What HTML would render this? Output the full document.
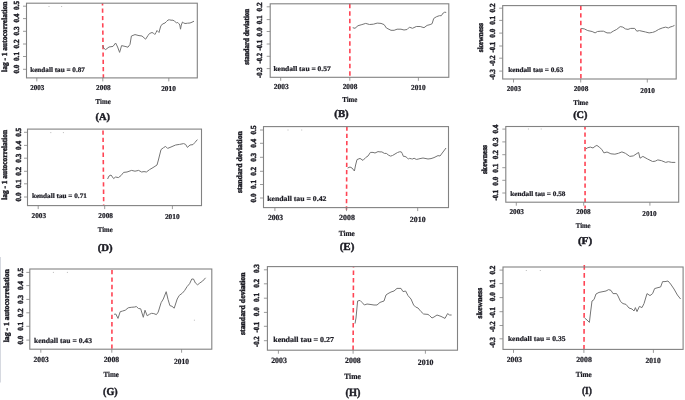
<!DOCTYPE html>
<html><head><meta charset="utf-8"><style>
html,body{margin:0;padding:0;background:#fff;width:685px;height:400px;overflow:hidden}
svg{display:block;filter:blur(0.3px)}
text{text-rendering:geometricPrecision;font-family:"Liberation Serif", serif;font-weight:bold;fill:#1c1c24;stroke:#1c1c24;stroke-width:0.22px}
text.r{stroke-width:0.45px}
text.l{stroke-width:0.45px}
</style></head><body>
<svg width="685" height="400" viewBox="0 0 685 400">
<line x1="0.5" y1="257" x2="0.5" y2="382.5" stroke="#d6d9e0" stroke-width="1"/>
<line x1="102.5" y1="3.2" x2="103.4" y2="77.9" stroke="#ff4454" stroke-width="1.6" stroke-dasharray="4.23 3.07" stroke-dashoffset="1.9"/>
<polyline points="102.8,45.6 103.6,48 105.6,49.6 109,47 113,46.4 115.6,43 117.6,47 119.6,52.4 121.6,45.6 125,46.4 128,47.2 130,44.4 131.4,36 135,34.6 139,35.6 142,36 145.6,39.2 148,35.5 149.5,33.5 152,32.5 153.5,33.2 154.8,34.5 156,32.5 157,30.5 158,31.5 159,32.5 160.2,28 161,25.5 163,23.8 165,23 166.5,21.5 168,20 169.5,19.8 171,20.2 173,20.2 174.5,21.2 176.5,22.8 177.8,22.5 179,23.8 179.8,25 180.5,29.2 181.3,25 182.5,22 183.5,22.8 185,23.5 187.5,23.2 190,23 192,22.2 194,21.2" fill="none" stroke="#747474" stroke-width="1" stroke-linejoin="round"/>
<rect x="26.5" y="3.2" width="170.8" height="74.7" fill="none" stroke="#828282" stroke-width="1.1"/>
<line x1="23" y1="6.2" x2="26.5" y2="6.2" stroke="#828282" stroke-width="0.8"/>
<text class="r" transform="translate(19.35,5.5) rotate(-90)" text-anchor="middle" font-size="7.8" textLength="9" lengthAdjust="spacingAndGlyphs">0.5</text>
<line x1="23" y1="18.6" x2="26.5" y2="18.6" stroke="#828282" stroke-width="0.8"/>
<text class="r" transform="translate(19.35,18.1) rotate(-90)" text-anchor="middle" font-size="7.8" textLength="9" lengthAdjust="spacingAndGlyphs">0.4</text>
<line x1="23" y1="31.3" x2="26.5" y2="31.3" stroke="#828282" stroke-width="0.8"/>
<text class="r" transform="translate(19.35,31) rotate(-90)" text-anchor="middle" font-size="7.8" textLength="9" lengthAdjust="spacingAndGlyphs">0.3</text>
<line x1="23" y1="44" x2="26.5" y2="44" stroke="#828282" stroke-width="0.8"/>
<text class="r" transform="translate(19.35,44) rotate(-90)" text-anchor="middle" font-size="7.8" textLength="9" lengthAdjust="spacingAndGlyphs">0.2</text>
<line x1="23" y1="56.5" x2="26.5" y2="56.5" stroke="#828282" stroke-width="0.8"/>
<text class="r" transform="translate(19.35,56.5) rotate(-90)" text-anchor="middle" font-size="7.8" textLength="9" lengthAdjust="spacingAndGlyphs">0.1</text>
<line x1="23" y1="69.3" x2="26.5" y2="69.3" stroke="#828282" stroke-width="0.8"/>
<text class="r" transform="translate(19.35,69.1) rotate(-90)" text-anchor="middle" font-size="7.8" textLength="9" lengthAdjust="spacingAndGlyphs">0.0</text>
<text class="r" transform="translate(6.75,36.8) rotate(-90)" text-anchor="middle" font-size="7.8" textLength="70.2" lengthAdjust="spacingAndGlyphs">lag - 1 autocorrelation</text>
<line x1="36.8" y1="77.9" x2="36.8" y2="81.4" stroke="#828282" stroke-width="0.8"/>
<text x="30.3" y="89.75" text-anchor="start" font-size="7.5" textLength="14.1" lengthAdjust="spacingAndGlyphs">2003</text>
<line x1="102.8" y1="77.9" x2="102.8" y2="81.4" stroke="#828282" stroke-width="0.8"/>
<text x="96.1" y="89.85" text-anchor="start" font-size="7.5" textLength="14.6" lengthAdjust="spacingAndGlyphs">2008</text>
<line x1="168.8" y1="77.9" x2="168.8" y2="81.4" stroke="#828282" stroke-width="0.8"/>
<text x="161.2" y="91.45" text-anchor="start" font-size="7.5" textLength="14.7" lengthAdjust="spacingAndGlyphs">2010</text>
<text x="30.2" y="71.78" text-anchor="start" font-size="7" textLength="54.7" lengthAdjust="spacingAndGlyphs">kendall tau = 0.87</text>
<text x="95.6" y="104.05" text-anchor="start" font-size="7.5" textLength="15.1" lengthAdjust="spacingAndGlyphs">Time</text>
<text x="95.6" y="120.43" text-anchor="start" font-size="10.3" textLength="14.5" lengthAdjust="spacingAndGlyphs" class="l">(A)</text>
<rect x="48.5" y="6" width="1" height="1" fill="#bbb"/>
<rect x="61.1" y="6" width="1" height="1" fill="#bbb"/>
<line x1="349.8" y1="3.8" x2="349.9" y2="78.6" stroke="#ff4454" stroke-width="1.6" stroke-dasharray="4.35 3.15" stroke-dashoffset="0"/>
<polyline points="352.7,27.7 355,28.3 358,25.7 361.9,24.6 365.7,23.4 369.5,24.5 373.4,24.2 377.2,23.1 381,23.4 384.1,24.6 386.4,28 391,30.3 394.1,30.3 397.1,29.2 401,29.2 404,30 407.1,29.5 409.4,27.2 412.5,28.3 416.3,26.5 420.2,26.5 424,27.7 427.1,25.4 430.1,24.6 432.1,23.7 433.7,18.5 436.3,16.8 439.3,15.7 441.3,15.7 443.2,13 444.7,12.2 446.2,12.4" fill="none" stroke="#747474" stroke-width="1" stroke-linejoin="round"/>
<rect x="270.2" y="3.8" width="178.6" height="73.5" fill="none" stroke="#828282" stroke-width="1.1"/>
<line x1="266.7" y1="6.8" x2="270.2" y2="6.8" stroke="#828282" stroke-width="0.8"/>
<text class="r" transform="translate(261.95,6.9) rotate(-90)" text-anchor="middle" font-size="7.8" textLength="9" lengthAdjust="spacingAndGlyphs">0.2</text>
<line x1="266.7" y1="19.6" x2="270.2" y2="19.6" stroke="#828282" stroke-width="0.8"/>
<text class="r" transform="translate(261.95,19.8) rotate(-90)" text-anchor="middle" font-size="7.8" textLength="9" lengthAdjust="spacingAndGlyphs">0.1</text>
<line x1="266.7" y1="31.5" x2="270.2" y2="31.5" stroke="#828282" stroke-width="0.8"/>
<text class="r" transform="translate(261.95,31.9) rotate(-90)" text-anchor="middle" font-size="7.8" textLength="9" lengthAdjust="spacingAndGlyphs">0.0</text>
<line x1="266.7" y1="44" x2="270.2" y2="44" stroke="#828282" stroke-width="0.8"/>
<text class="r" transform="translate(261.95,45.3) rotate(-90)" text-anchor="middle" font-size="7.8" textLength="10.6" lengthAdjust="spacingAndGlyphs">-0.1</text>
<line x1="266.7" y1="56.3" x2="270.2" y2="56.3" stroke="#828282" stroke-width="0.8"/>
<text class="r" transform="translate(261.95,58.2) rotate(-90)" text-anchor="middle" font-size="7.8" textLength="10.6" lengthAdjust="spacingAndGlyphs">-0.2</text>
<line x1="266.7" y1="68.6" x2="270.2" y2="68.6" stroke="#828282" stroke-width="0.8"/>
<text class="r" transform="translate(261.95,72.6) rotate(-90)" text-anchor="middle" font-size="7.8" textLength="10.6" lengthAdjust="spacingAndGlyphs">-0.3</text>
<text class="r" transform="translate(248.65,36.8) rotate(-90)" text-anchor="middle" font-size="7.8" textLength="56" lengthAdjust="spacingAndGlyphs">standard deviation</text>
<line x1="280.7" y1="77.3" x2="280.7" y2="80.8" stroke="#828282" stroke-width="0.8"/>
<text x="273.8" y="88.68" text-anchor="start" font-size="7.58" textLength="14.9" lengthAdjust="spacingAndGlyphs">2003</text>
<line x1="349.8" y1="77.3" x2="349.8" y2="80.8" stroke="#828282" stroke-width="0.8"/>
<text x="342.7" y="88.58" text-anchor="start" font-size="7.58" textLength="14.6" lengthAdjust="spacingAndGlyphs">2008</text>
<line x1="418.4" y1="77.3" x2="418.4" y2="80.8" stroke="#828282" stroke-width="0.8"/>
<text x="411" y="90.38" text-anchor="start" font-size="7.58" textLength="14.7" lengthAdjust="spacingAndGlyphs">2010</text>
<text x="273.4" y="70.8" text-anchor="start" font-size="7.07" textLength="57.4" lengthAdjust="spacingAndGlyphs">kendall tau = 0.57</text>
<text x="342.2" y="102.38" text-anchor="start" font-size="7.58" textLength="15.1" lengthAdjust="spacingAndGlyphs">Time</text>
<text x="334.3" y="117.35" text-anchor="start" font-size="10.4" textLength="14.4" lengthAdjust="spacingAndGlyphs" class="l">(B)</text>
<line x1="580.8" y1="5.6" x2="580.9" y2="79" stroke="#ff4454" stroke-width="1.6" stroke-dasharray="4.41 3.19" stroke-dashoffset="0"/>
<polyline points="581.1,28.4 584.3,28.9 587.8,30.6 592.1,31.5 595.1,32.9 597.4,31.5 600.9,31.2 603.5,31.2 607,32.9 610.5,32.9 613.2,31.2 616.7,29.4 620.2,26.6 622.8,27.1 625.4,28.9 628,29.4 630.7,28.4 634.7,28.4 636.8,31.2 639.4,30.6 642,31.2 645.6,32 649.1,32.9 652.6,32.4 655.2,31.5 658.7,29.4 662.2,28 665.7,27.1 668.3,28 670,27.1 672.7,26.3 674.5,25.4" fill="none" stroke="#747474" stroke-width="1" stroke-linejoin="round"/>
<rect x="502.7" y="5.6" width="173.5" height="73.4" fill="none" stroke="#828282" stroke-width="1.1"/>
<line x1="499.2" y1="8.2" x2="502.7" y2="8.2" stroke="#828282" stroke-width="0.8"/>
<text class="r" transform="translate(495.45,8) rotate(-90)" text-anchor="middle" font-size="7.8" textLength="9" lengthAdjust="spacingAndGlyphs">0.2</text>
<line x1="499.2" y1="20.4" x2="502.7" y2="20.4" stroke="#828282" stroke-width="0.8"/>
<text class="r" transform="translate(495.45,20.3) rotate(-90)" text-anchor="middle" font-size="7.8" textLength="9" lengthAdjust="spacingAndGlyphs">0.1</text>
<line x1="499.2" y1="33.1" x2="502.7" y2="33.1" stroke="#828282" stroke-width="0.8"/>
<text class="r" transform="translate(495.45,33.2) rotate(-90)" text-anchor="middle" font-size="7.8" textLength="9" lengthAdjust="spacingAndGlyphs">0.0</text>
<line x1="499.2" y1="46" x2="502.7" y2="46" stroke="#828282" stroke-width="0.8"/>
<text class="r" transform="translate(495.45,47.1) rotate(-90)" text-anchor="middle" font-size="7.8" textLength="10.6" lengthAdjust="spacingAndGlyphs">-0.1</text>
<line x1="499.2" y1="58.2" x2="502.7" y2="58.2" stroke="#828282" stroke-width="0.8"/>
<text class="r" transform="translate(495.45,60.6) rotate(-90)" text-anchor="middle" font-size="7.8" textLength="10.6" lengthAdjust="spacingAndGlyphs">-0.2</text>
<line x1="499.2" y1="71.1" x2="502.7" y2="71.1" stroke="#828282" stroke-width="0.8"/>
<text class="r" transform="translate(495.45,74.4) rotate(-90)" text-anchor="middle" font-size="7.8" textLength="10.6" lengthAdjust="spacingAndGlyphs">-0.3</text>
<text class="r" transform="translate(483.05,37.7) rotate(-90)" text-anchor="middle" font-size="7.8" textLength="29.2" lengthAdjust="spacingAndGlyphs">skewness</text>
<line x1="513.5" y1="79" x2="513.5" y2="82.5" stroke="#828282" stroke-width="0.8"/>
<text x="506.8" y="90.72" text-anchor="start" font-size="7.42" textLength="14.3" lengthAdjust="spacingAndGlyphs">2003</text>
<line x1="580.7" y1="79" x2="580.7" y2="82.5" stroke="#828282" stroke-width="0.8"/>
<text x="573.7" y="90.72" text-anchor="start" font-size="7.42" textLength="14.6" lengthAdjust="spacingAndGlyphs">2008</text>
<line x1="647.3" y1="79" x2="647.3" y2="82.5" stroke="#828282" stroke-width="0.8"/>
<text x="640.3" y="92.52" text-anchor="start" font-size="7.42" textLength="14.6" lengthAdjust="spacingAndGlyphs">2010</text>
<text x="508.2" y="72.36" text-anchor="start" font-size="6.93" textLength="55.1" lengthAdjust="spacingAndGlyphs">kendall tau = 0.63</text>
<text x="573.2" y="104.82" text-anchor="start" font-size="7.42" textLength="15.1" lengthAdjust="spacingAndGlyphs">Time</text>
<text x="573.2" y="117.7" text-anchor="start" font-size="10.2" textLength="14.3" lengthAdjust="spacingAndGlyphs" class="l">(C)</text>
<line x1="103" y1="129.1" x2="103.7" y2="205.6" stroke="#ff4454" stroke-width="1.6" stroke-dasharray="4.29 3.11" stroke-dashoffset="6.1"/>
<polyline points="107.6,179 109,176 111,175 113.6,178.6 115.6,177 118.4,177.6 121,175.6 123.6,172.4 127,172 131.6,170.4 135,171.2 138.6,170.4 141.6,172 144,171.6 146.4,172 149.6,169.6 153,167.6 157,165 158.4,160 161,149.6 163.6,147.6 165.6,146.4 167.6,148.4 171,147 175.6,145 179.6,144.4 183.6,143.6 185.6,144.4 187.4,147.4 190,145 193,144.6 195,142.4 197.4,139.6" fill="none" stroke="#747474" stroke-width="1" stroke-linejoin="round"/>
<rect x="27.5" y="129.1" width="174" height="76.5" fill="none" stroke="#828282" stroke-width="1.1"/>
<line x1="24" y1="132.3" x2="27.5" y2="132.3" stroke="#828282" stroke-width="0.8"/>
<text class="r" transform="translate(21.45,132.3) rotate(-90)" text-anchor="middle" font-size="7.8" textLength="9" lengthAdjust="spacingAndGlyphs">0.5</text>
<line x1="24" y1="145.4" x2="27.5" y2="145.4" stroke="#828282" stroke-width="0.8"/>
<text class="r" transform="translate(21.45,145.4) rotate(-90)" text-anchor="middle" font-size="7.8" textLength="9" lengthAdjust="spacingAndGlyphs">0.4</text>
<line x1="24" y1="158.2" x2="27.5" y2="158.2" stroke="#828282" stroke-width="0.8"/>
<text class="r" transform="translate(21.45,158.2) rotate(-90)" text-anchor="middle" font-size="7.8" textLength="9" lengthAdjust="spacingAndGlyphs">0.3</text>
<line x1="24" y1="171.3" x2="27.5" y2="171.3" stroke="#828282" stroke-width="0.8"/>
<text class="r" transform="translate(21.45,171.3) rotate(-90)" text-anchor="middle" font-size="7.8" textLength="9" lengthAdjust="spacingAndGlyphs">0.2</text>
<line x1="24" y1="183.8" x2="27.5" y2="183.8" stroke="#828282" stroke-width="0.8"/>
<text class="r" transform="translate(21.45,183.8) rotate(-90)" text-anchor="middle" font-size="7.8" textLength="9" lengthAdjust="spacingAndGlyphs">0.1</text>
<line x1="24" y1="197" x2="27.5" y2="197" stroke="#828282" stroke-width="0.8"/>
<text class="r" transform="translate(21.45,197) rotate(-90)" text-anchor="middle" font-size="7.8" textLength="9" lengthAdjust="spacingAndGlyphs">0.0</text>
<text class="r" transform="translate(7.45,164.9) rotate(-90)" text-anchor="middle" font-size="7.8" textLength="69.8" lengthAdjust="spacingAndGlyphs">lag - 1 autocorrelation</text>
<line x1="38.2" y1="205.6" x2="38.2" y2="209.1" stroke="#828282" stroke-width="0.8"/>
<text x="31.5" y="217.72" text-anchor="start" font-size="7.42" textLength="14.6" lengthAdjust="spacingAndGlyphs">2003</text>
<line x1="104.7" y1="205.6" x2="104.7" y2="209.1" stroke="#828282" stroke-width="0.8"/>
<text x="98.3" y="217.72" text-anchor="start" font-size="7.42" textLength="14.7" lengthAdjust="spacingAndGlyphs">2008</text>
<line x1="172.4" y1="205.6" x2="172.4" y2="209.1" stroke="#828282" stroke-width="0.8"/>
<text x="164.9" y="219.42" text-anchor="start" font-size="7.42" textLength="14.8" lengthAdjust="spacingAndGlyphs">2010</text>
<text x="31.9" y="198.01" text-anchor="start" font-size="6.93" textLength="55" lengthAdjust="spacingAndGlyphs">kendall tau = 0.71</text>
<text x="97.8" y="232.12" text-anchor="start" font-size="7.42" textLength="14.9" lengthAdjust="spacingAndGlyphs">Time</text>
<text x="97.8" y="250.6" text-anchor="start" font-size="10.2" textLength="14.9" lengthAdjust="spacingAndGlyphs" class="l">(D)</text>
<rect x="50.3" y="132.1" width="1" height="1" fill="#bbb"/>
<rect x="62.9" y="132.1" width="1" height="1" fill="#bbb"/>
<line x1="346.9" y1="126.6" x2="346.5" y2="209.7" stroke="#ff4454" stroke-width="1.6" stroke-dasharray="4.21 3.04" stroke-dashoffset="0"/>
<polyline points="347.6,168 350,167 352,168 354.4,171 355.6,165 357,159.6 360,158.4 363,160.4 365.6,157.6 368,156 370.4,152.4 373,152.4 375,153 378,151.6 380,151.9 381.9,151.9 384.4,153.4 386.3,153.4 388.8,155.3 390.6,156.1 392.5,155.5 395,154 397.5,152.5 399.7,151.75 401.3,151.9 402.2,153.4 403.4,156.4 405,156.4 406.9,157.5 408.4,159.1 409.4,158.4 411.3,158.75 412.2,159.1 414.1,158.25 416.3,159.4 418.1,159.1 420,158.6 423,158 428,159 431,158.6 434,157.6 438,155.6 440,156 443,152 446,148" fill="none" stroke="#747474" stroke-width="1" stroke-linejoin="round"/>
<rect x="263.5" y="126.6" width="185" height="81" fill="none" stroke="#828282" stroke-width="1.1"/>
<line x1="260" y1="130" x2="263.5" y2="130" stroke="#828282" stroke-width="0.8"/>
<text class="r" transform="translate(255.95,130) rotate(-90)" text-anchor="middle" font-size="7.8" textLength="9" lengthAdjust="spacingAndGlyphs">0.5</text>
<line x1="260" y1="143.3" x2="263.5" y2="143.3" stroke="#828282" stroke-width="0.8"/>
<text class="r" transform="translate(255.95,143.3) rotate(-90)" text-anchor="middle" font-size="7.8" textLength="9" lengthAdjust="spacingAndGlyphs">0.4</text>
<line x1="260" y1="157.3" x2="263.5" y2="157.3" stroke="#828282" stroke-width="0.8"/>
<text class="r" transform="translate(255.95,157.3) rotate(-90)" text-anchor="middle" font-size="7.8" textLength="9" lengthAdjust="spacingAndGlyphs">0.3</text>
<line x1="260" y1="171.3" x2="263.5" y2="171.3" stroke="#828282" stroke-width="0.8"/>
<text class="r" transform="translate(255.95,171.3) rotate(-90)" text-anchor="middle" font-size="7.8" textLength="9" lengthAdjust="spacingAndGlyphs">0.2</text>
<line x1="260" y1="184.5" x2="263.5" y2="184.5" stroke="#828282" stroke-width="0.8"/>
<text class="r" transform="translate(255.95,184.5) rotate(-90)" text-anchor="middle" font-size="7.8" textLength="9" lengthAdjust="spacingAndGlyphs">0.1</text>
<line x1="260" y1="198" x2="263.5" y2="198" stroke="#828282" stroke-width="0.8"/>
<text class="r" transform="translate(255.95,198) rotate(-90)" text-anchor="middle" font-size="7.8" textLength="9" lengthAdjust="spacingAndGlyphs">0.0</text>
<text class="r" transform="translate(242.15,162.15) rotate(-90)" text-anchor="middle" font-size="7.8" textLength="61.9" lengthAdjust="spacingAndGlyphs">standard deviation</text>
<line x1="274.9" y1="207.6" x2="274.9" y2="211.1" stroke="#828282" stroke-width="0.8"/>
<text x="267.9" y="220.35" text-anchor="start" font-size="7.8" textLength="15.1" lengthAdjust="spacingAndGlyphs">2003</text>
<line x1="346.5" y1="207.6" x2="346.5" y2="211.1" stroke="#828282" stroke-width="0.8"/>
<text x="339.1" y="220.35" text-anchor="start" font-size="7.8" textLength="15.8" lengthAdjust="spacingAndGlyphs">2008</text>
<line x1="417.7" y1="207.6" x2="417.7" y2="211.1" stroke="#828282" stroke-width="0.8"/>
<text x="409.8" y="222.45" text-anchor="start" font-size="7.8" textLength="15.8" lengthAdjust="spacingAndGlyphs">2010</text>
<text x="267.2" y="200.98" text-anchor="start" font-size="7.28" textLength="59.3" lengthAdjust="spacingAndGlyphs">kendall tau = 0.42</text>
<text x="338.7" y="235.95" text-anchor="start" font-size="7.8" textLength="16.2" lengthAdjust="spacingAndGlyphs">Time</text>
<text x="339.7" y="249.83" text-anchor="start" font-size="10.71" textLength="14.7" lengthAdjust="spacingAndGlyphs" class="l">(E)</text>
<rect x="287.5" y="129.5" width="1" height="1" fill="#bbb"/>
<rect x="301.2" y="129.5" width="1" height="1" fill="#bbb"/>
<line x1="585" y1="126.5" x2="585.1" y2="208.5" stroke="#ff4454" stroke-width="1.6" stroke-dasharray="4.23 3.07" stroke-dashoffset="1.3"/>
<polyline points="585.7,148.9 587.8,147.7 590.4,147.1 593,148 595.1,146.3 596.9,145.4 599.2,147.1 601.8,149.4 603.9,152.9 607,152 610.9,153.8 614.9,154.2 618.4,153.3 621.9,151.9 625.4,153.3 629.8,156.4 633.3,155.9 638.6,152.4 640,158.2 642.9,156.4 647.3,158.9 652.6,161.5 655.2,161.2 657.8,159.9 661.3,160.6 665.7,162.4 668.3,161.7 671.8,162.4 675.3,162.4" fill="none" stroke="#747474" stroke-width="1" stroke-linejoin="round"/>
<rect x="505.8" y="126.5" width="172.9" height="75.7" fill="none" stroke="#828282" stroke-width="1.1"/>
<line x1="502.3" y1="129.1" x2="505.8" y2="129.1" stroke="#828282" stroke-width="0.8"/>
<text class="r" transform="translate(498.15,129.1) rotate(-90)" text-anchor="middle" font-size="7.8" textLength="9" lengthAdjust="spacingAndGlyphs">0.4</text>
<line x1="502.3" y1="141.9" x2="505.8" y2="141.9" stroke="#828282" stroke-width="0.8"/>
<text class="r" transform="translate(498.15,141.9) rotate(-90)" text-anchor="middle" font-size="7.8" textLength="9" lengthAdjust="spacingAndGlyphs">0.3</text>
<line x1="502.3" y1="154.7" x2="505.8" y2="154.7" stroke="#828282" stroke-width="0.8"/>
<text class="r" transform="translate(498.15,154.7) rotate(-90)" text-anchor="middle" font-size="7.8" textLength="9" lengthAdjust="spacingAndGlyphs">0.2</text>
<line x1="502.3" y1="167.7" x2="505.8" y2="167.7" stroke="#828282" stroke-width="0.8"/>
<text class="r" transform="translate(498.15,168.2) rotate(-90)" text-anchor="middle" font-size="7.8" textLength="9" lengthAdjust="spacingAndGlyphs">0.1</text>
<line x1="502.3" y1="180.3" x2="505.8" y2="180.3" stroke="#828282" stroke-width="0.8"/>
<text class="r" transform="translate(498.15,181.2) rotate(-90)" text-anchor="middle" font-size="7.8" textLength="9" lengthAdjust="spacingAndGlyphs">0.0</text>
<line x1="502.3" y1="193" x2="505.8" y2="193" stroke="#828282" stroke-width="0.8"/>
<text class="r" transform="translate(498.15,195.2) rotate(-90)" text-anchor="middle" font-size="7.8" textLength="10.6" lengthAdjust="spacingAndGlyphs">-0.1</text>
<text class="r" transform="translate(486.55,159.55) rotate(-90)" text-anchor="middle" font-size="7.8" textLength="29.1" lengthAdjust="spacingAndGlyphs">skewness</text>
<line x1="516.3" y1="202.2" x2="516.3" y2="205.7" stroke="#828282" stroke-width="0.8"/>
<text x="509.4" y="214.02" text-anchor="start" font-size="7.42" textLength="14.5" lengthAdjust="spacingAndGlyphs">2003</text>
<line x1="583.7" y1="202.2" x2="583.7" y2="205.7" stroke="#828282" stroke-width="0.8"/>
<text x="576.2" y="213.82" text-anchor="start" font-size="7.42" textLength="14.4" lengthAdjust="spacingAndGlyphs">2008</text>
<line x1="649.9" y1="202.2" x2="649.9" y2="205.7" stroke="#828282" stroke-width="0.8"/>
<text x="642.3" y="215.92" text-anchor="start" font-size="7.42" textLength="14.4" lengthAdjust="spacingAndGlyphs">2010</text>
<text x="510.2" y="196.36" text-anchor="start" font-size="6.93" textLength="55.3" lengthAdjust="spacingAndGlyphs">kendall tau = 0.58</text>
<text x="575.8" y="228.22" text-anchor="start" font-size="7.42" textLength="14.8" lengthAdjust="spacingAndGlyphs">Time</text>
<text x="577.9" y="243.6" text-anchor="start" font-size="10.2" textLength="14.3" lengthAdjust="spacingAndGlyphs" class="l">(F)</text>
<rect x="527.9" y="128.5" width="1" height="1" fill="#bbb"/>
<rect x="540.7" y="128.5" width="1" height="1" fill="#bbb"/>
<line x1="112" y1="269" x2="111.9" y2="349.2" stroke="#ff4454" stroke-width="1.6" stroke-dasharray="4.32 3.13" stroke-dashoffset="6.5"/>
<polyline points="114.1,314.3 115.8,314 118,318.4 120.2,311.7 122.4,311.1 125.3,310.2 128.2,307.8 131.2,307.3 134.8,307 136.3,306.5 138.5,308.5 140.7,308.8 143.3,317.3 145,310.2 147.2,315.8 149.4,314.3 151.6,313.3 153.8,313.6 156.4,314.6 158.2,312.1 161.1,302.7 163.3,299 166.2,291.7 168.1,299.7 169.9,305.6 172,306.3 174.2,308.2 177.2,299 179.3,295.4 182.3,293.2 184.5,290.7 187.1,286.6 189.6,283.7 191.8,279 193.5,279 195.4,283 197.6,284.8 199.8,283 202.7,281 205.6,277.8" fill="none" stroke="#747474" stroke-width="1" stroke-linejoin="round"/>
<rect x="29.8" y="269" width="182" height="80.2" fill="none" stroke="#828282" stroke-width="1.1"/>
<line x1="26.3" y1="272.4" x2="29.8" y2="272.4" stroke="#828282" stroke-width="0.8"/>
<text class="r" transform="translate(22.85,272.4) rotate(-90)" text-anchor="middle" font-size="7.8" textLength="9" lengthAdjust="spacingAndGlyphs">0.5</text>
<line x1="26.3" y1="285.6" x2="29.8" y2="285.6" stroke="#828282" stroke-width="0.8"/>
<text class="r" transform="translate(22.85,285.6) rotate(-90)" text-anchor="middle" font-size="7.8" textLength="9" lengthAdjust="spacingAndGlyphs">0.4</text>
<line x1="26.3" y1="299.4" x2="29.8" y2="299.4" stroke="#828282" stroke-width="0.8"/>
<text class="r" transform="translate(22.85,299.4) rotate(-90)" text-anchor="middle" font-size="7.8" textLength="9" lengthAdjust="spacingAndGlyphs">0.3</text>
<line x1="26.3" y1="312.8" x2="29.8" y2="312.8" stroke="#828282" stroke-width="0.8"/>
<text class="r" transform="translate(22.85,312.8) rotate(-90)" text-anchor="middle" font-size="7.8" textLength="9" lengthAdjust="spacingAndGlyphs">0.2</text>
<line x1="26.3" y1="326.3" x2="29.8" y2="326.3" stroke="#828282" stroke-width="0.8"/>
<text class="r" transform="translate(22.85,326.3) rotate(-90)" text-anchor="middle" font-size="7.8" textLength="9" lengthAdjust="spacingAndGlyphs">0.1</text>
<line x1="26.3" y1="340.1" x2="29.8" y2="340.1" stroke="#828282" stroke-width="0.8"/>
<text class="r" transform="translate(22.85,340.1) rotate(-90)" text-anchor="middle" font-size="7.8" textLength="9" lengthAdjust="spacingAndGlyphs">0.0</text>
<text class="r" transform="translate(9.15,305.75) rotate(-90)" text-anchor="middle" font-size="7.8" textLength="73.1" lengthAdjust="spacingAndGlyphs">lag - 1 autocorrelation</text>
<line x1="40.8" y1="349.2" x2="40.8" y2="352.7" stroke="#828282" stroke-width="0.8"/>
<text x="33.6" y="361.55" text-anchor="start" font-size="7.8" textLength="15.1" lengthAdjust="spacingAndGlyphs">2003</text>
<line x1="111.8" y1="349.2" x2="111.8" y2="352.7" stroke="#828282" stroke-width="0.8"/>
<text x="103.7" y="361.55" text-anchor="start" font-size="7.8" textLength="15.4" lengthAdjust="spacingAndGlyphs">2008</text>
<line x1="181.6" y1="349.2" x2="181.6" y2="352.7" stroke="#828282" stroke-width="0.8"/>
<text x="173.9" y="363.65" text-anchor="start" font-size="7.8" textLength="15" lengthAdjust="spacingAndGlyphs">2010</text>
<text x="33.9" y="342.98" text-anchor="start" font-size="7.28" textLength="58.1" lengthAdjust="spacingAndGlyphs">kendall tau = 0.43</text>
<text x="103.4" y="377.05" text-anchor="start" font-size="7.8" textLength="15.5" lengthAdjust="spacingAndGlyphs">Time</text>
<text x="103.1" y="394.53" text-anchor="start" font-size="10.71" textLength="14.6" lengthAdjust="spacingAndGlyphs" class="l">(G)</text>
<rect x="52.9" y="271.9" width="1" height="1" fill="#bbb"/>
<rect x="66.9" y="271.9" width="1" height="1" fill="#bbb"/>
<rect x="193.9" y="319.7" width="1" height="1" fill="#bbb"/>
<line x1="353.5" y1="266.6" x2="353.1" y2="350.2" stroke="#ff4454" stroke-width="1.6" stroke-dasharray="4.35 3.15" stroke-dashoffset="3.5"/>
<polyline points="355,323.6 356,318 357.6,301 360,300.4 362,302.4 364.4,305 367,304 370,304.4 374,305 377,305 380,302.4 384,301 386,295 388,293.6 391,292 394,291 397,288.4 401,288.4 403,291.6 405.6,291 408,295.6 411,299 413.6,305 415.6,307 418,308 421,311.6 423.6,314 428,314.4 429.6,315.6 432,318 434,317 437,315 441,316.4 445,318.4 447.6,313.6 449.6,315 451.6,315" fill="none" stroke="#747474" stroke-width="1" stroke-linejoin="round"/>
<rect x="267.4" y="266.6" width="190.1" height="83.6" fill="none" stroke="#828282" stroke-width="1.1"/>
<line x1="263.9" y1="269.8" x2="267.4" y2="269.8" stroke="#828282" stroke-width="0.8"/>
<text class="r" transform="translate(258.85,268.6) rotate(-90)" text-anchor="middle" font-size="7.8" textLength="9" lengthAdjust="spacingAndGlyphs">0.3</text>
<line x1="263.9" y1="283.8" x2="267.4" y2="283.8" stroke="#828282" stroke-width="0.8"/>
<text class="r" transform="translate(258.85,283.3) rotate(-90)" text-anchor="middle" font-size="7.8" textLength="9" lengthAdjust="spacingAndGlyphs">0.2</text>
<line x1="263.9" y1="298.2" x2="267.4" y2="298.2" stroke="#828282" stroke-width="0.8"/>
<text class="r" transform="translate(258.85,297.5) rotate(-90)" text-anchor="middle" font-size="7.8" textLength="9" lengthAdjust="spacingAndGlyphs">0.1</text>
<line x1="263.9" y1="312.4" x2="267.4" y2="312.4" stroke="#828282" stroke-width="0.8"/>
<text class="r" transform="translate(258.85,311.7) rotate(-90)" text-anchor="middle" font-size="7.8" textLength="9" lengthAdjust="spacingAndGlyphs">0.0</text>
<line x1="263.9" y1="326.3" x2="267.4" y2="326.3" stroke="#828282" stroke-width="0.8"/>
<text class="r" transform="translate(258.85,327.1) rotate(-90)" text-anchor="middle" font-size="7.8" textLength="10.6" lengthAdjust="spacingAndGlyphs">-0.1</text>
<line x1="263.9" y1="340.7" x2="267.4" y2="340.7" stroke="#828282" stroke-width="0.8"/>
<text class="r" transform="translate(258.85,341.7) rotate(-90)" text-anchor="middle" font-size="7.8" textLength="10.6" lengthAdjust="spacingAndGlyphs">-0.2</text>
<text class="r" transform="translate(245.35,303.7) rotate(-90)" text-anchor="middle" font-size="7.8" textLength="62.6" lengthAdjust="spacingAndGlyphs">standard deviation</text>
<line x1="278.4" y1="350.2" x2="278.4" y2="353.7" stroke="#828282" stroke-width="0.8"/>
<text x="271.2" y="363.25" text-anchor="start" font-size="8.1" textLength="15.7" lengthAdjust="spacingAndGlyphs">2003</text>
<line x1="353.1" y1="350.2" x2="353.1" y2="353.7" stroke="#828282" stroke-width="0.8"/>
<text x="345" y="363.05" text-anchor="start" font-size="8.1" textLength="15.8" lengthAdjust="spacingAndGlyphs">2008</text>
<line x1="425.4" y1="350.2" x2="425.4" y2="353.7" stroke="#828282" stroke-width="0.8"/>
<text x="417.8" y="365.15" text-anchor="start" font-size="8.1" textLength="15.7" lengthAdjust="spacingAndGlyphs">2010</text>
<text x="273.2" y="341.72" text-anchor="start" font-size="7.56" textLength="60.9" lengthAdjust="spacingAndGlyphs">kendall tau = 0.27</text>
<text x="344.2" y="379.15" text-anchor="start" font-size="8.1" textLength="16.6" lengthAdjust="spacingAndGlyphs">Time</text>
<text x="345.6" y="396.44" text-anchor="start" font-size="11.12" textLength="14.8" lengthAdjust="spacingAndGlyphs" class="l">(H)</text>
<line x1="584.3" y1="265" x2="584" y2="349.4" stroke="#ff4454" stroke-width="1.6" stroke-dasharray="4.64 3.36" stroke-dashoffset="0"/>
<polyline points="584.6,318 587,320 589.4,322.4 590.6,312 592,301 594,299.6 596,294 599,292.4 603,291.6 606,291 608.6,289.6 611,290.4 613,293.6 616.6,293.6 618,296 620.6,301.6 623,303.6 626,304.4 629,308 632,309 634,311 635.4,307.6 637,311.6 639.4,306.4 642,307.6 644,303.6 647,293.6 650,295.6 652.6,293.6 654.6,288.6 658,287.6 660.6,287 662.6,281.6 665,281.6 668,281 670.6,284 674,289 677.4,295 680.6,299" fill="none" stroke="#747474" stroke-width="1" stroke-linejoin="round"/>
<rect x="503" y="267" width="180.1" height="82.4" fill="none" stroke="#828282" stroke-width="1.1"/>
<line x1="499.5" y1="270.1" x2="503" y2="270.1" stroke="#828282" stroke-width="0.8"/>
<text class="r" transform="translate(494.65,270.1) rotate(-90)" text-anchor="middle" font-size="7.8" textLength="9" lengthAdjust="spacingAndGlyphs">0.2</text>
<line x1="499.5" y1="283.6" x2="503" y2="283.6" stroke="#828282" stroke-width="0.8"/>
<text class="r" transform="translate(494.65,283.6) rotate(-90)" text-anchor="middle" font-size="7.8" textLength="9" lengthAdjust="spacingAndGlyphs">0.1</text>
<line x1="499.5" y1="297.6" x2="503" y2="297.6" stroke="#828282" stroke-width="0.8"/>
<text class="r" transform="translate(494.65,296.7) rotate(-90)" text-anchor="middle" font-size="7.8" textLength="9" lengthAdjust="spacingAndGlyphs">0.0</text>
<line x1="499.5" y1="311.7" x2="503" y2="311.7" stroke="#828282" stroke-width="0.8"/>
<text class="r" transform="translate(494.65,312.5) rotate(-90)" text-anchor="middle" font-size="7.8" textLength="10.6" lengthAdjust="spacingAndGlyphs">-0.1</text>
<line x1="499.5" y1="325.5" x2="503" y2="325.5" stroke="#828282" stroke-width="0.8"/>
<text class="r" transform="translate(494.65,326.7) rotate(-90)" text-anchor="middle" font-size="7.8" textLength="10.6" lengthAdjust="spacingAndGlyphs">-0.2</text>
<line x1="499.5" y1="338.8" x2="503" y2="338.8" stroke="#828282" stroke-width="0.8"/>
<text class="r" transform="translate(494.65,342.5) rotate(-90)" text-anchor="middle" font-size="7.8" textLength="10.6" lengthAdjust="spacingAndGlyphs">-0.3</text>
<text class="r" transform="translate(481.85,303.1) rotate(-90)" text-anchor="middle" font-size="7.8" textLength="30.6" lengthAdjust="spacingAndGlyphs">skewness</text>
<line x1="513.5" y1="349.4" x2="513.5" y2="352.9" stroke="#828282" stroke-width="0.8"/>
<text x="506.8" y="361.93" text-anchor="start" font-size="7.73" textLength="15.2" lengthAdjust="spacingAndGlyphs">2003</text>
<line x1="583.9" y1="349.4" x2="583.9" y2="352.9" stroke="#828282" stroke-width="0.8"/>
<text x="576.2" y="361.53" text-anchor="start" font-size="7.73" textLength="15.6" lengthAdjust="spacingAndGlyphs">2008</text>
<line x1="653.4" y1="349.4" x2="653.4" y2="352.9" stroke="#828282" stroke-width="0.8"/>
<text x="645.5" y="363.43" text-anchor="start" font-size="7.73" textLength="15.2" lengthAdjust="spacingAndGlyphs">2010</text>
<text x="507.9" y="340.65" text-anchor="start" font-size="7.21" textLength="57.6" lengthAdjust="spacingAndGlyphs">kendall tau = 0.35</text>
<text x="575.8" y="377.33" text-anchor="start" font-size="7.73" textLength="16" lengthAdjust="spacingAndGlyphs">Time</text>
<text x="581.9" y="394.01" text-anchor="start" font-size="10.61" textLength="9.9" lengthAdjust="spacingAndGlyphs" class="l">(I)</text>
<rect x="525.8" y="270" width="1" height="1" fill="#bbb"/>
<rect x="539.8" y="270" width="1" height="1" fill="#bbb"/>
</svg>
</body></html>
